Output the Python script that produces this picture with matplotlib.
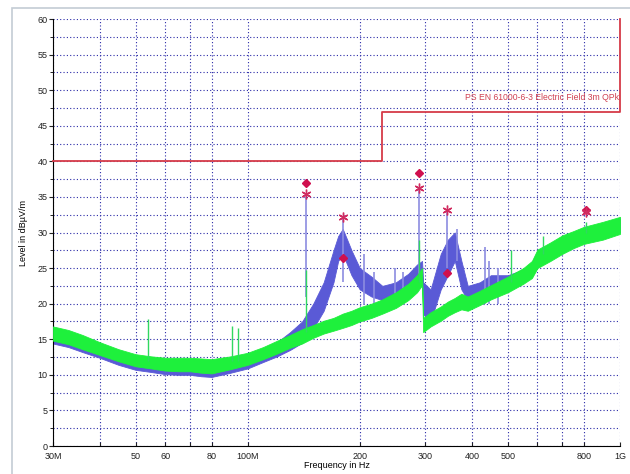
import matplotlib
matplotlib.use('Agg')
import matplotlib.pyplot as plt
from matplotlib.patches import Rectangle
from matplotlib.ticker import FixedLocator, NullFormatter

plt.rcParams['font.family'] = ['Liberation Sans', 'DejaVu Sans']

# frequencies in MHz, band edges in dBuV/m
freq = [30, 33, 36, 40, 45, 50, 55, 60, 65, 70, 75, 80, 90, 100, 110, 120, 130,
        140, 150, 160, 170, 175, 180, 185, 190, 200, 215, 230, 250, 270, 285, 294,
        296, 310, 330, 345, 360, 375, 390, 420, 450, 500, 550, 580, 600, 650, 700,
        750, 800, 900, 1000]

green_lo = [14.8, 14.3, 13.6, 12.8, 11.9, 11.2, 10.9, 10.6, 10.5, 10.5, 10.3, 10.2,
            10.8, 11.4, 12.2, 13.0, 13.8, 14.4, 15.2, 15.8, 16.2, 16.4, 16.6, 16.8,
            17.0, 17.5, 18.0, 18.6, 19.4, 20.5, 21.6, 22.6, 16.0, 16.8, 17.6, 18.3,
            18.8, 19.2, 19.0, 19.8, 20.6, 21.6, 22.8, 23.6, 25.0, 26.0, 27.0, 27.8,
            28.4, 29.0, 29.8]
green_hi = [16.8, 16.3, 15.6, 14.6, 13.6, 12.9, 12.6, 12.4, 12.4, 12.4, 12.3, 12.2,
            12.6, 13.1, 13.9, 14.8, 15.6, 16.4, 17.0, 17.6, 18.0, 18.3, 18.6, 18.8,
            19.0, 19.5, 20.0, 20.6, 21.6, 22.8, 24.0, 25.0, 18.0, 18.8, 19.6, 20.3,
            20.8, 21.4, 21.0, 21.8, 22.6, 23.8, 25.0, 26.0, 27.6, 28.6, 29.6, 30.2,
            30.8, 31.5, 32.2]

blue_lo = [14.4, 13.9, 13.2, 12.4, 11.4, 10.7, 10.4, 10.1, 10.0, 10.0, 9.8, 9.7,
           10.3, 10.9, 11.8, 12.6, 13.5, 14.5, 16.5, 19.0, 23.0, 26.0, 27.0, 25.5,
           24.0, 22.0, 21.0, 20.5, 21.0, 22.2, 23.2, 24.0, 18.5, 17.5, 22.0, 24.0,
           26.0, 22.0, 20.5, 20.5, 21.2, 21.8, 23.0, 23.8, 25.2, 26.2, 27.2, 28.0,
           28.6, 29.2, 30.0]
blue_hi = [16.6, 16.1, 15.4, 14.4, 13.4, 12.7, 12.4, 12.2, 12.2, 12.2, 12.1, 12.0,
           12.4, 12.9, 13.7, 14.6, 16.0, 17.5, 20.0, 23.0, 27.5, 29.5, 30.5, 29.0,
           27.5, 25.0, 23.8, 22.5, 23.0, 24.2, 25.5, 26.0, 23.0, 22.0, 27.0, 29.0,
           30.0, 26.0, 22.5, 23.0, 24.0, 24.0, 24.8, 25.8, 27.4, 28.4, 29.4, 30.0,
           30.6, 31.3, 32.0]

blue_spike_f = [143.6, 180, 205, 218, 248, 262, 288, 343, 364, 435, 445, 470]
blue_spike_db = [35.4, 32.2, 27.0, 24.5, 25.0, 24.5, 36.2, 33.2, 30.5, 28.0, 26.0, 25.0]
green_spike_f = [54, 91, 94, 143.6, 288, 510, 620, 810]
green_spike_db = [17.8, 16.8, 16.6, 24.8, 29.0, 27.5, 29.5, 31.5]

# quasi-peak (diamond) and peak (asterisk) markers
qp_f = [143.6, 180, 288, 343, 809]
qp_db = [36.9, 26.4, 38.3, 24.3, 33.2]
pk_f = [143.6, 180, 288, 343, 809]
pk_db = [35.4, 32.2, 36.2, 33.2, 32.9]

limit_f = [30, 230, 230, 1000, 1000]
limit_db = [40, 40, 47, 47, 60]

fig = plt.figure(figsize=(6.3, 4.74), dpi=100)
fig.patches.append(Rectangle((12 / 630, -0.1), 1.1, 1.1 - 8 / 474, transform=fig.transFigure,
                             fill=False, edgecolor='#c4ccd4', linewidth=1.2))
ax = fig.add_axes([53 / 630, 28 / 474, 567 / 630, 427 / 474])

blue = '#5a5ad6'
green = '#1ef03c'

ax.fill_between(freq, blue_lo, blue_hi, color=blue, linewidth=0.6, zorder=2)
ax.vlines(blue_spike_f, [21, 23, 20, 19.5, 20, 21, 23, 25, 26, 20, 20, 20],
          blue_spike_db, color='#8c8ce0', linewidth=1.2, zorder=2)
ax.fill_between(freq, green_lo, green_hi, color=green, linewidth=0.6, zorder=3)
ax.vlines(green_spike_f, [12, 12, 12, 16, 23, 23, 27, 30], green_spike_db,
          color='#30d860', linewidth=1.0, zorder=3)

ax.plot(limit_f, limit_db, color='#d63a48', linewidth=1.3, clip_on=False, zorder=4)
ax.text(995, 48.3, 'PS EN 61000-6-3 Electric Field 3m QPk', color='#d04050',
        fontsize=6.2, ha='right', va='bottom', zorder=5)

ax.plot(qp_f, qp_db, linestyle='none', marker='D', markersize=4.5, color='#d0104e',
        zorder=6, clip_on=False)
ax.plot(pk_f, pk_db, linestyle='none', marker=(6, 2, 0), markersize=7,
        markeredgewidth=1.0, color='#d02c60', zorder=6, clip_on=False)

ax.set_xscale('log')
ax.set_xlim(30, 1000)
ax.set_ylim(0, 60)

xgrid = [30, 40, 50, 60, 70, 80, 100, 200, 300, 400, 500, 600, 700, 800, 1000]
xlab = {30: '30M', 50: '50', 60: '60', 80: '80', 100: '100M', 200: '200',
        300: '300', 400: '400', 500: '500', 800: '800', 1000: '1G'}
ax.xaxis.set_major_locator(FixedLocator(xgrid))
ax.xaxis.set_minor_locator(FixedLocator([]))
ax.set_xticklabels([xlab.get(v, '') for v in xgrid])
ax.set_yticks(range(0, 61, 5))
ax.yaxis.set_minor_locator(FixedLocator([2.5 + 5 * i for i in range(12)]))
ax.yaxis.set_minor_formatter(NullFormatter())

ax.grid(True, which='both', color='#2a2aa8', linestyle=(0, (1, 2)), linewidth=0.8)
ax.set_axisbelow(True)
for s in ['top', 'right']:
    ax.spines[s].set_visible(False)

ax.tick_params(axis='x', direction='in', length=3, labelsize=6.5, pad=4, colors='#222222')
ax.tick_params(axis='y', which='major', direction='out', length=3, labelsize=6.5, pad=1,
               colors='#222222')
ax.tick_params(axis='y', which='minor', direction='out', length=2)

ax.set_ylabel('Level in dBµV/m', fontsize=6.5, labelpad=7)
ax.set_xlabel('Frequency in Hz', fontsize=6.5, va='center')
ax.xaxis.set_label_coords(0.5, -0.046)

fig.savefig('out.png', dpi=100)
